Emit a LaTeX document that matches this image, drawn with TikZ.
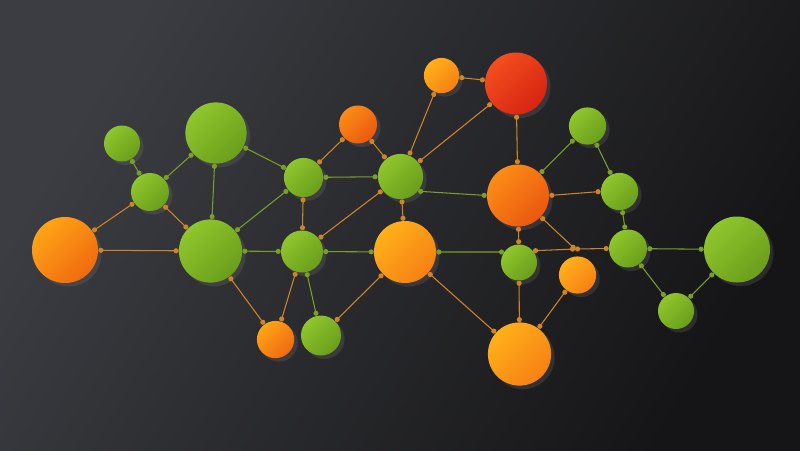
\documentclass[tikz,border=0pt]{standalone}
\usepackage{tikz}
\usetikzlibrary{arrows,arrows.meta,positioning,shadows}
\pgfdeclarelayer{background layer}
\pgfsetlayers{background layer,main}
\definecolor{bglight}{RGB}{60,61,66}
\definecolor{bgdark}{RGB}{21,21,23}
\definecolor{greenA}{RGB}{143,198,44}
\definecolor{greenB}{RGB}{106,158,28}
\definecolor{orangeA}{RGB}{255,164,22}
\definecolor{orangeB}{RGB}{240,106,16}
\definecolor{deepA}{RGB}{252,140,22}
\definecolor{deepB}{RGB}{234,88,16}
\definecolor{amberA}{RGB}{255,176,26}
\definecolor{amberB}{RGB}{246,128,20}
\definecolor{redA}{RGB}{244,78,30}
\definecolor{redB}{RGB}{214,36,18}
\definecolor{linkorange}{RGB}{206,132,40}
\definecolor{linkgreen}{RGB}{122,158,44}

\begin{document}
\begin{tikzpicture}[x=0.025cm,y=-0.025cm]
\tikzstyle{ball}=[circle,inner sep=0pt,drop shadow={shadow xshift=2.5pt,shadow yshift=-2.5pt,opacity=0.22}]
\tikzstyle{greennode}=[ball,top color=greenA,bottom color=greenB,shading angle=45]
\tikzstyle{orangenode}=[ball,top color=orangeA,bottom color=orangeB,shading angle=45]
\tikzstyle{deepnode}=[ball,top color=deepA,bottom color=deepB,shading angle=45]
\tikzstyle{ambernode}=[ball,top color=amberA,bottom color=amberB,shading angle=45]
\tikzstyle{rednode}=[ball,top color=redA,bottom color=redB,shading angle=45]
\tikzstyle{olink}=[line width=0.75pt,draw=linkorange,<->,>={Circle[length=3.6pt]}]
\tikzstyle{glink}=[line width=0.75pt,draw=linkgreen,<->,>={Circle[length=3.6pt]}]
\useasboundingbox (0,0) rectangle (800,450);
% left part
\node [greennode,minimum size=0.9cm] at (122,143.5) (g1) {};
\node [greennode,minimum size=1.53cm] at (216,133) (g2) {};
\node [greennode,minimum size=0.95cm] at (150,192) (g3) {};
\node [orangenode,minimum size=1.65cm] at (65,250) (o1) {};
\node [greennode,minimum size=1.58cm] at (210.5,251) (g4) {};
% middle
\node [greennode,minimum size=0.98cm] at (303.5,177.5) (g5) {};
\node [deepnode,minimum size=0.95cm] at (358,124.5) (o2) {};
\node [ambernode,minimum size=0.88cm] at (441.5,75.5) (o3) {};
\node [rednode,minimum size=1.55cm] at (516,83.5) (r1) {};
\node [greennode,minimum size=1.13cm] at (400.5,176.5) (g6) {};
\node [deepnode,minimum size=1.55cm] at (518,195.5) (o4) {};
\node [greennode,minimum size=1.05cm] at (302,251.5) (g9) {};
\node [ambernode,minimum size=1.55cm] at (405,252) (o5) {};
\node [greennode,minimum size=0.9cm] at (519,262.5) (g10) {};
\node [orangenode,minimum size=0.93cm] at (275.5,339.5) (o7) {};
\node [greennode,minimum size=1.0cm] at (321,335.5) (g14) {};
\node [ambernode,minimum size=1.58cm] at (519.5,354) (o8) {};
\node [ambernode,minimum size=0.93cm] at (577.5,275) (o6) {};
% right part
\node [greennode,minimum size=0.93cm] at (587.5,126) (g7) {};
\node [greennode,minimum size=0.93cm] at (619.5,191.5) (g8) {};
\node [greennode,minimum size=0.95cm] at (628,248.5) (g11) {};
\node [greennode,minimum size=1.65cm] at (737,249.5) (g12) {};
\node [greennode,minimum size=0.9cm] at (676,311) (g13) {};
\coordinate (k1) at (575,249);
% links
\draw [glink] (g1) -- (g3);
\draw [glink] (g3) -- (g2);
\draw [olink] (g3) -- (o1);
\draw [olink] (g3) -- (g4);
\draw [glink] (g2) -- (g4);
\draw [glink] (g2) -- (g5);
\draw [glink] (g4) -- (g5);
\draw [olink] (o1) -- (g4);
\draw [glink] (g4) -- (g9);
\draw [olink] (g4) -- (o7);
\draw [olink] (g5) -- (o2);
\draw [olink] (o2) -- (g6);
\draw [glink] (g5) -- (g6);
\draw [olink] (g6) -- (o3);
\draw [olink] (g6) -- (r1);
\draw [olink] (o3) -- (r1);
\draw [olink] (r1) -- (o4);
\draw [glink] (g6.-40) -- (o4.west);
\draw [olink] (g5) -- (g9);
\draw [olink] (g9) -- (g6);
\draw [olink] (g6) -- (o5);
\draw [glink] (g9) -- (o5);
\draw [glink] (o5.east) -- (g10.145);
\draw [olink] (g10.40) -- (k1);
\draw [olink] (k1) -- (g11.west);
\draw [olink] (o4) -- (k1);
\draw [olink] (o4) -- (g10);
\draw [glink] (g7) -- (o4);
\draw [glink] (g7) -- (g8);
\draw [olink] (g8.west) -- (o4.east);
\draw [glink] (g8) -- (g11);
\draw [glink] (g11) -- (g12);
\draw [glink] (g11) -- (g13);
\draw [glink] (g13) -- (g12);
\draw [olink] (g10) -- (o8);
\draw [olink] (o6) -- (o8);
\draw [olink] (o5) -- (o8);
\draw [olink] (g9) -- (o7);
\draw [glink] (g9) -- (g14);
\draw [olink] (g14) -- (o5);
\begin{pgfonlayer}{background layer}
\shade [top color=bglight,bottom color=bgdark,shading angle=60] (0,0) rectangle (800,450);
\end{pgfonlayer}
\end{tikzpicture}
\end{document}
